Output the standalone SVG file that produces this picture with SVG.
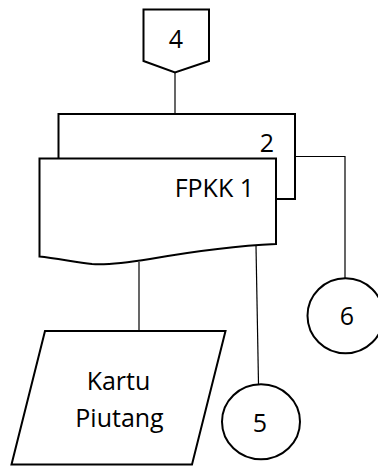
<svg xmlns="http://www.w3.org/2000/svg" width="378" height="467" viewBox="0 0 378 467">
  <style>
    .shape { fill: #ffffff; stroke: #000000; stroke-width: 2; stroke-linejoin: miter; }
    .conn { fill: none; stroke: #000000; stroke-width: 1.2; }
    .label { font-family: "Open Sans", "Liberation Sans", sans-serif; font-size: 25px; fill: #000000; }
  </style>
  <rect width="378" height="467" fill="#ffffff"/>

  <!-- connectors -->
  <g id="connectors">
    <line class="conn" x1="175" y1="73" x2="175" y2="114"/>
    <line class="conn" x1="139" y1="262" x2="139" y2="331"/>
    <line class="conn" x1="256" y1="246" x2="258.5" y2="384"/>
    <polyline class="conn" points="295,156.5 345,156.5 345,278"/>
  </g>

  <!-- off-page connector 4 -->
  <g id="node-4">
    <polygon class="shape" points="143.5,9.5 209,9.5 209,61 175,72.5 143.5,61"/>
    <text class="label" x="176" y="48" text-anchor="middle">4</text>
  </g>

  <!-- document copy 2 (behind) -->
  <g id="node-doc2">
    <rect class="shape" x="58.5" y="114" width="236.5" height="85"/>
    <text class="label" x="267" y="152" text-anchor="middle">2</text>
  </g>

  <!-- document FPKK 1 (front) -->
  <g id="node-fpkk1">
    <path class="shape" d="M39.5,158.5 H276 V244 C230,246 190,252 150,259 C125,263 105,265 92,264 C75,262 55,258 39.5,256.5 Z"/>
    <text class="label" x="254" y="197" text-anchor="end">FPKK 1</text>
  </g>

  <!-- Kartu Piutang -->
  <g id="node-kartu">
    <polygon class="shape" points="45,331 225.5,331 192,464.5 11.5,464.5"/>
    <text class="label" x="118.5" y="390" text-anchor="middle">Kartu</text>
    <text class="label" x="119.5" y="427" text-anchor="middle">Piutang</text>
  </g>

  <!-- on-page connector 5 -->
  <g id="node-5">
    <ellipse class="shape" cx="261" cy="421.8" rx="39" ry="37.5"/>
    <text class="label" x="260" y="432" text-anchor="middle">5</text>
  </g>

  <!-- on-page connector 6 -->
  <g id="node-6">
    <ellipse class="shape" cx="345.5" cy="315.8" rx="38" ry="37.5"/>
    <text class="label" x="347" y="325" text-anchor="middle">6</text>
  </g>
</svg>
